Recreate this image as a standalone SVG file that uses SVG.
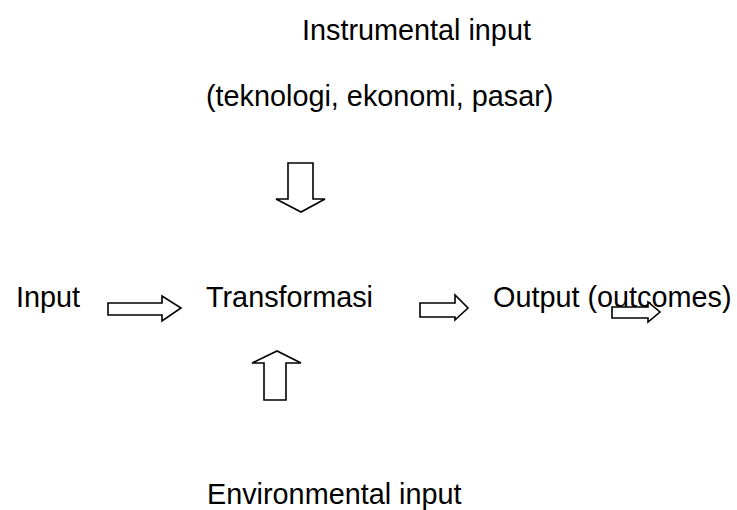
<svg xmlns="http://www.w3.org/2000/svg" width="737" height="510" viewBox="0 0 737 510">
  <style>
    .lbl { font-family: "Liberation Sans", Arial, sans-serif; font-size: 28.8px; fill: #000; }
    .arrow { fill: #fff; stroke: #000; stroke-width: 1.6; stroke-linejoin: miter; }
  </style>
  <rect width="737" height="510" fill="#fff"/>

  <g id="instrumental-input">
    <text class="lbl" x="302" y="40">Instrumental input</text>
    <text class="lbl" x="206" y="106">(teknologi, ekonomi, pasar)</text>
  </g>

  <g id="input">
    <text class="lbl" x="16" y="307">Input</text>
  </g>

  <g id="transformasi">
    <text class="lbl" x="206" y="307">Transformasi</text>
  </g>

  <g id="output">
    <text class="lbl" x="493" y="307">Output (outcomes)</text>
  </g>

  <g id="environmental-input">
    <text class="lbl" x="207" y="504">Environmental input</text>
  </g>

  <g id="connectors">
    <!-- down arrow from instrumental input -->
    <path class="arrow" d="M288,163 H313 V199 H325 L301,212 L276,199 H288 Z"/>
    <!-- up arrow from environmental input -->
    <path class="arrow" d="M264,400 H286 V363 H301 L277,351 L252,363 H264 Z"/>
    <!-- input to transformasi -->
    <path class="arrow" d="M108,303 H162 V296 L181,308 L162,321 V315 H108 Z"/>
    <!-- transformasi to output -->
    <path class="arrow" d="M420,303 H455 V295 L468,308 L455,320 V317 H420 Z"/>
    <!-- arrow after output -->
    <path class="arrow" d="M612,307 H648 V302 L660,312 L648,322 V318 H612 Z"/>
  </g>
</svg>
